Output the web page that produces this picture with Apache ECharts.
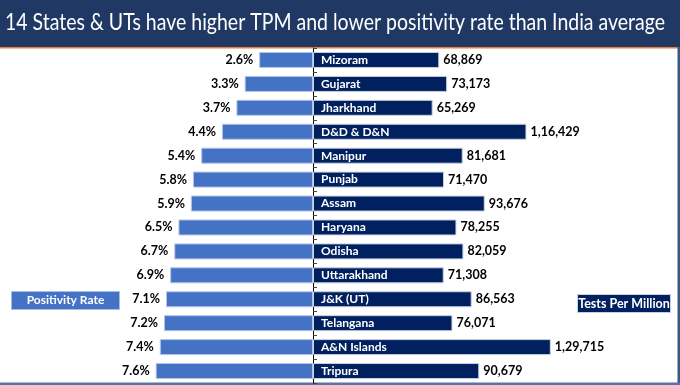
<!DOCTYPE html>
<html>
<head>
<meta charset="utf-8">
<script src="https://cdn.jsdelivr.net/npm/echarts@6/dist/echarts.min.js"></script>
<style>
html,body{margin:0;padding:0;background:#fff;}
#c{width:680px;height:385px;}
</style>
</head>
<body>
<div id="c"></div>
<script>
var categories = ['Mizoram','Gujarat','Jharkhand','D&D & D&N','Manipur','Punjab','Assam','Haryana','Odisha','Uttarakhand','J&K (UT)','Telangana','A&N Islands','Tripura'];
var positivityRate = [2.6,3.3,3.7,4.4,5.4,5.8,5.9,6.5,6.7,6.9,7.1,7.2,7.4,7.6];
var testsPerMillion = [68869,73173,65269,116429,81681,71470,93676,78255,82059,71308,86563,76071,129715,90679];
var titleText = '14 States & UTs have higher TPM and lower positivity rate than India average';
var leftLegend = 'Positivity Rate';
var rightLegend = 'Tests Per Million';

function indianFormat(n){
  var s = String(Math.round(n));
  if (s.length <= 3) return s;
  var last3 = s.slice(-3);
  var rest = s.slice(0, -3);
  rest = rest.replace(/\B(?=(\d{2})+(?!\d))/g, ',');
  return rest + ',' + last3;
}

var FONT = 'Lato';
var chart = echarts.init(document.getElementById('c'), null, {renderer:'canvas'});

// measure title to fit the band width
var ctx = document.createElement('canvas').getContext('2d');
ctx.font = '23px ' + FONT;
var tw = ctx.measureText(titleText).width;
var titleScale = 660 / tw;

var option = {
  animation: false,
  graphic: [
    {type:'rect', z:-10, shape:{x:0,y:0,width:680,height:47}, style:{fill:'#1f3864'}},
    {type:'rect', z:-10, shape:{x:0,y:47,width:680,height:1.5}, style:{fill:'#ed7d31'}},
    {type:'rect', z:-10, shape:{x:677.5,y:47,width:2.5,height:338}, style:{fill:'#3e5683'}},
    {type:'rect', z:-10, shape:{x:0,y:382.5,width:680,height:2.5}, style:{fill:'#5b73a0'}},
    {type:'text', x:5, y:23, scaleX:titleScale, scaleY:1,
     style:{text:titleText, fill:'#ffffff', font:'23px ' + FONT, textAlign:'left', textVerticalAlign:'middle'}},
    {type:'group', left:11, top:291, children:[
      {type:'rect', shape:{x:0,y:0,width:108,height:18}, style:{fill:'#4472c4', stroke:'#a9bce2', lineWidth:1}},
      {type:'text', x:54, y:9, style:{text:leftLegend, fill:'#ffffff', font:'bold 12px ' + FONT, textAlign:'center', textVerticalAlign:'middle'}}
    ]},
    {type:'group', left:577, top:294, children:[
      {type:'rect', shape:{x:0,y:0,width:93,height:18}, style:{fill:'#002060', stroke:'#c8d0e0', lineWidth:1}},
      {type:'text', x:46.5, y:9, style:{text:rightLegend, fill:'#ffffff', font:'bold 12.5px ' + FONT, textAlign:'center', textVerticalAlign:'middle'}}
    ]}
  ],
  grid: [
    {left:106, width:207, top:48, bottom:2},
    {left:313, width:330, top:48, bottom:2}
  ],
  xAxis: [
    {gridIndex:0, type:'value', inverse:true, min:0, max:10, show:false},
    {gridIndex:1, type:'value', min:0, max:180000, show:false}
  ],
  yAxis: [
    {gridIndex:0, type:'category', data:categories, inverse:true, show:false},
    {gridIndex:1, type:'category', data:categories, inverse:true, position:'left',
     axisLine:{show:true, lineStyle:{color:'#000000', width:1}},
     axisTick:{show:true, inside:true, length:4, lineStyle:{color:'#444'}},
     axisLabel:{show:false}, splitLine:{show:false}}
  ],
  series: [
    {type:'bar', xAxisIndex:0, yAxisIndex:0, data:positivityRate, barWidth:16,
     itemStyle:{color:'#4472c4', borderColor:'#b4c6e7', borderWidth:1},
     label:{show:true, position:'left', distance:6, color:'#000', fontFamily:FONT, fontWeight:'bold', fontSize:12.5,
       formatter:function(p){return p.value.toFixed(1) + '%';}}},
    {type:'bar', xAxisIndex:1, yAxisIndex:1, data:testsPerMillion, barWidth:16, barGap:'-100%',
     itemStyle:{color:'#002060', borderColor:'#c8d0e0', borderWidth:1},
     label:{show:true, position:'right', distance:4, color:'#000', fontFamily:FONT, fontWeight:'bold', fontSize:12.5,
       formatter:function(p){return indianFormat(p.value);}}},
    {type:'bar', xAxisIndex:1, yAxisIndex:1, data:testsPerMillion, barWidth:16, barGap:'-100%', silent:true,
     itemStyle:{color:'rgba(0,0,0,0)'},
     label:{show:true, position:'insideLeft', distance:8, color:'#fff', fontFamily:FONT, fontWeight:'bold', fontSize:12,
       formatter:function(p){return p.name;}}}
  ]
};
chart.setOption(option);
</script>
</body>
</html>
